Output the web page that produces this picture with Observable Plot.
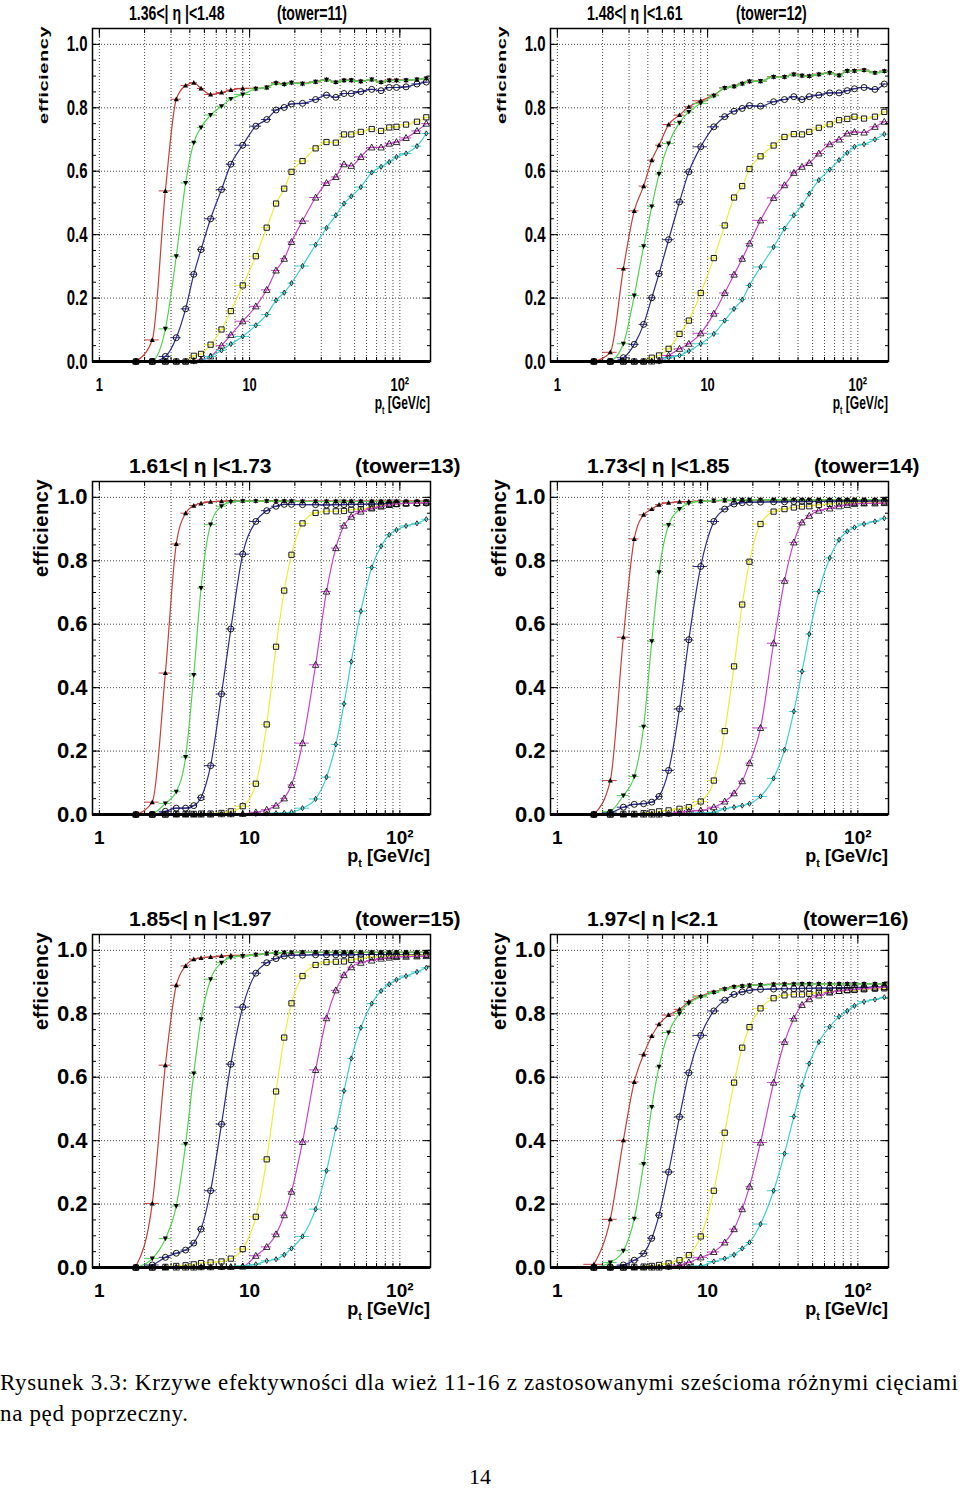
<!DOCTYPE html>
<html><head><meta charset="utf-8">
<script src="https://cdn.jsdelivr.net/npm/d3@7"></script>
<script src="https://cdn.jsdelivr.net/npm/@observablehq/plot@0.6"></script>
<style>
body{margin:0;background:#fff;}
#page{position:relative;width:960px;height:1488px;overflow:hidden;font-family:"Liberation Sans",Arial,sans-serif;background:#fff;}
.panel{position:absolute;width:470px;height:440px;}
.panel svg{position:absolute;left:0;top:0;overflow:visible;}
.lbl{position:absolute;white-space:nowrap;font-weight:bold;line-height:1;color:#000;}
.cap{position:absolute;left:0;white-space:nowrap;font-family:"Liberation Serif","DejaVu Serif",serif;font-size:23px;line-height:31px;color:#000;}
</style></head><body><div id="page"></div>
<script>
// ---------- data ----------
const ptBins = [1.75,2.25,2.75,3.25,3.75,4.25,4.75,5.5,6.5,7.5,9,11,13,15,17,19,22.5,27.5,32.5,37.5,42.5,47.5,55,65,75,85,95,110,130,150];
const ptLow  = [1.5,2,2.5,3,3.5,4,4.5,5,6,7,8,10,12,14,16,18,20,25,30,35,40,45,50,60,70,80,90,100,120,140];
const ptHigh = [2,2.5,3,3.5,4,4.5,5,6,7,8,10,12,14,16,18,20,25,30,35,40,45,50,60,70,80,90,100,120,140,160];

const towers = [11,12,13,14,15,16];
const etaLabels = ["1.36<| η |<1.48","1.48<| η |<1.61","1.61<| η |<1.73","1.73<| η |<1.85","1.85<| η |<1.97","1.97<| η |<2.1"];
const yTickLabels = [0,0.2,0.4,0.6,0.8,1.0];
const xTickLabels = [1,10,100];

const t11_red     = [0,0.068,0.538,0.827,0.870,0.879,0.861,0.842,0.848,0.856,0.861,0.861,0.864,0.879,0.875,0.880,0.877,0.882,0.889,0.881,0.887,0.887,0.884,0.889,0.881,0.887,0.887,0.887,0.889,0.893];
const t11_green   = [0,0.003,0.103,0.332,0.563,0.690,0.738,0.777,0.805,0.828,0.842,0.860,0.864,0.877,0.873,0.879,0.876,0.882,0.888,0.880,0.886,0.887,0.883,0.889,0.880,0.886,0.886,0.887,0.889,0.892];
const t11_blue    = [0,0,0.016,0.075,0.166,0.275,0.353,0.450,0.542,0.622,0.682,0.742,0.763,0.793,0.801,0.812,0.814,0.826,0.840,0.833,0.845,0.845,0.851,0.858,0.854,0.864,0.864,0.866,0.875,0.881];
const t11_yellow  = [0,0,0,0,0,0.018,0.024,0.053,0.101,0.159,0.240,0.332,0.422,0.498,0.545,0.598,0.632,0.672,0.692,0.690,0.716,0.716,0.724,0.733,0.727,0.738,0.740,0.747,0.756,0.770];
const t11_magenta = [0,0,0,0,0,0.002,0.005,0.016,0.050,0.084,0.127,0.174,0.226,0.287,0.324,0.377,0.443,0.517,0.563,0.582,0.622,0.617,0.645,0.675,0.675,0.687,0.692,0.705,0.727,0.750];
const t11_cyan    = [0,0,0,0,0,0,0.003,0.016,0.035,0.055,0.079,0.114,0.148,0.193,0.217,0.247,0.301,0.368,0.421,0.461,0.498,0.521,0.550,0.596,0.614,0.629,0.645,0.656,0.679,0.719];

const t12_red     = [0,0.029,0.293,0.475,0.553,0.635,0.682,0.747,0.777,0.803,0.822,0.840,0.863,0.868,0.877,0.884,0.884,0.898,0.898,0.906,0.902,0.900,0.906,0.911,0.903,0.917,0.917,0.919,0.911,0.916];
const t12_green   = [0,0.003,0.056,0.208,0.363,0.489,0.591,0.687,0.753,0.787,0.814,0.838,0.862,0.867,0.876,0.883,0.884,0.897,0.897,0.905,0.901,0.899,0.905,0.910,0.902,0.916,0.916,0.918,0.910,0.915];
const t12_blue    = [0,0,0.012,0.054,0.117,0.201,0.277,0.384,0.503,0.598,0.677,0.740,0.772,0.789,0.798,0.807,0.805,0.819,0.826,0.835,0.826,0.835,0.840,0.847,0.847,0.854,0.860,0.864,0.858,0.875];
const t12_yellow  = [0,0,0,0,0,0.012,0.019,0.040,0.087,0.129,0.216,0.326,0.429,0.517,0.553,0.607,0.647,0.681,0.708,0.717,0.716,0.724,0.737,0.748,0.761,0.765,0.772,0.766,0.772,0.787];
const t12_magenta = [0,0,0,0,0,0,0.003,0.019,0.040,0.056,0.089,0.151,0.216,0.274,0.324,0.372,0.445,0.516,0.556,0.595,0.614,0.626,0.656,0.685,0.700,0.719,0.724,0.722,0.740,0.756];
const t12_cyan    = [0,0,0,0,0,0,0,0.012,0.019,0.033,0.056,0.087,0.129,0.166,0.195,0.240,0.298,0.361,0.419,0.461,0.493,0.529,0.572,0.605,0.635,0.658,0.677,0.685,0.700,0.717];

const t13_red     = [0,0.039,0.446,0.853,0.950,0.974,0.981,0.986,0.988,0.989,0.989,0.989,0.989,0.989,0.989,0.989,0.988,0.988,0.988,0.988,0.988,0.988,0.988,0.988,0.988,0.988,0.988,0.988,0.988,0.988];
const t13_green   = [0,0.003,0.035,0.072,0.181,0.440,0.714,0.914,0.972,0.985,0.988,0.988,0.988,0.988,0.988,0.988,0.987,0.987,0.987,0.987,0.987,0.987,0.987,0.987,0.987,0.987,0.987,0.987,0.987,0.987];
const t13_blue    = [0,0,0.010,0.020,0.020,0.028,0.053,0.154,0.380,0.585,0.821,0.924,0.958,0.972,0.978,0.978,0.977,0.977,0.976,0.977,0.977,0.978,0.978,0.979,0.979,0.980,0.980,0.981,0.981,0.982];
const t13_yellow  = [0,0,0,0.002,0.002,0.002,0.003,0.003,0.005,0.010,0.026,0.097,0.284,0.529,0.706,0.819,0.918,0.951,0.956,0.956,0.957,0.961,0.963,0.968,0.974,0.977,0.979,0.981,0.982,0.984];
const t13_magenta = [0,0,0,0,0,0,0,0,0.001,0.001,0.002,0.007,0.015,0.028,0.051,0.093,0.225,0.472,0.703,0.840,0.911,0.939,0.955,0.965,0.971,0.976,0.979,0.981,0.982,0.983];
const t13_cyan    = [0,0,0,0,0,0,0,0,0,0,0.001,0.002,0.003,0.004,0.005,0.007,0.020,0.049,0.118,0.221,0.349,0.482,0.641,0.779,0.846,0.882,0.897,0.910,0.918,0.931];

const t14_red     = [0,0.107,0.559,0.869,0.945,0.963,0.977,0.983,0.986,0.987,0.988,0.989,0.990,0.990,0.991,0.991,0.991,0.991,0.991,0.991,0.991,0.991,0.991,0.991,0.991,0.991,0.991,0.991,0.991,0.991];
const t14_green   = [0,0.010,0.060,0.120,0.277,0.546,0.764,0.913,0.963,0.981,0.987,0.990,0.991,0.991,0.992,0.992,0.992,0.992,0.992,0.992,0.992,0.992,0.992,0.992,0.992,0.992,0.992,0.992,0.992,0.992];
const t14_blue    = [0,0.005,0.023,0.032,0.034,0.039,0.057,0.139,0.333,0.551,0.782,0.924,0.963,0.979,0.983,0.984,0.985,0.986,0.986,0.987,0.987,0.987,0.987,0.988,0.988,0.988,0.988,0.988,0.988,0.988];
const t14_yellow  = [0,0,0.002,0.002,0.004,0.007,0.010,0.013,0.018,0.023,0.041,0.107,0.263,0.467,0.662,0.797,0.916,0.955,0.963,0.968,0.971,0.972,0.976,0.979,0.981,0.982,0.983,0.983,0.984,0.984];
const t14_magenta = [0,0,0,0,0,0,0,0.003,0.007,0.010,0.013,0.023,0.041,0.067,0.105,0.162,0.273,0.540,0.737,0.858,0.921,0.942,0.958,0.965,0.972,0.976,0.979,0.981,0.981,0.982];
const t14_cyan    = [0,0,0,0,0,0,0,0,0.002,0.003,0.005,0.007,0.018,0.023,0.028,0.034,0.057,0.114,0.204,0.325,0.451,0.569,0.703,0.809,0.866,0.893,0.905,0.916,0.924,0.934];

const t15_red     = [0.003,0.202,0.638,0.890,0.951,0.972,0.976,0.979,0.982,0.984,0.984,0.987,0.990,0.992,0.993,0.993,0.994,0.994,0.994,0.994,0.994,0.994,0.994,0.994,0.994,0.994,0.994,0.994,0.994,0.994];
const t15_green   = [0,0.028,0.091,0.194,0.389,0.612,0.783,0.909,0.961,0.977,0.982,0.986,0.990,0.992,0.993,0.993,0.994,0.994,0.994,0.994,0.994,0.994,0.994,0.994,0.994,0.994,0.994,0.994,0.994,0.994];
const t15_blue    = [0,0.008,0.032,0.045,0.055,0.077,0.121,0.242,0.452,0.641,0.821,0.928,0.961,0.974,0.982,0.984,0.985,0.986,0.986,0.986,0.986,0.986,0.987,0.987,0.987,0.987,0.987,0.987,0.987,0.987];
const t15_yellow  = [0,0,0.002,0.005,0.007,0.010,0.014,0.016,0.019,0.028,0.058,0.160,0.341,0.555,0.725,0.833,0.919,0.954,0.963,0.964,0.965,0.970,0.974,0.979,0.980,0.982,0.982,0.984,0.984,0.985];
const t15_magenta = [0,0,0,0,0,0,0.001,0.001,0.002,0.002,0.003,0.037,0.065,0.105,0.165,0.239,0.396,0.623,0.786,0.874,0.922,0.947,0.961,0.968,0.974,0.977,0.979,0.980,0.981,0.982];
const t15_cyan    = [0,0,0,0,0,0,0,0,0,0.002,0.005,0.010,0.021,0.026,0.040,0.060,0.098,0.184,0.305,0.439,0.557,0.659,0.756,0.832,0.872,0.893,0.907,0.919,0.932,0.945];

const t16_red     = [0.010,0.152,0.401,0.585,0.672,0.730,0.767,0.796,0.814,0.838,0.856,0.869,0.879,0.886,0.888,0.890,0.892,0.893,0.894,0.894,0.895,0.895,0.895,0.895,0.895,0.895,0.895,0.895,0.895,0.895];
const t16_green   = [0,0.016,0.053,0.154,0.326,0.506,0.633,0.741,0.801,0.833,0.853,0.867,0.877,0.884,0.887,0.889,0.891,0.892,0.893,0.893,0.894,0.894,0.894,0.894,0.894,0.894,0.894,0.894,0.894,0.894];
const t16_blue    = [0,0.002,0.008,0.023,0.044,0.092,0.165,0.301,0.475,0.614,0.732,0.809,0.843,0.861,0.869,0.874,0.877,0.878,0.879,0.879,0.880,0.880,0.881,0.881,0.882,0.882,0.883,0.883,0.884,0.884];
const t16_yellow  = [0,0,0,0.002,0.003,0.005,0.008,0.013,0.023,0.039,0.098,0.242,0.425,0.583,0.693,0.758,0.817,0.849,0.858,0.861,0.861,0.863,0.867,0.870,0.872,0.874,0.875,0.877,0.879,0.880];
const t16_magenta = [0,0,0,0,0,0,0,0.003,0.007,0.016,0.032,0.049,0.079,0.121,0.184,0.255,0.394,0.583,0.711,0.785,0.828,0.846,0.858,0.867,0.872,0.875,0.877,0.879,0.882,0.884];
const t16_cyan    = [0,0,0,0,0,0,0,0,0.002,0.003,0.005,0.019,0.028,0.040,0.060,0.079,0.137,0.242,0.359,0.476,0.573,0.643,0.711,0.759,0.791,0.809,0.825,0.838,0.845,0.852];

const panelSeries = [
  [t11_red,t11_green,t11_blue,t11_yellow,t11_magenta,t11_cyan],
  [t12_red,t12_green,t12_blue,t12_yellow,t12_magenta,t12_cyan],
  [t13_red,t13_green,t13_blue,t13_yellow,t13_magenta,t13_cyan],
  [t14_red,t14_green,t14_blue,t14_yellow,t14_magenta,t14_cyan],
  [t15_red,t15_green,t15_blue,t15_yellow,t15_magenta,t15_cyan],
  [t16_red,t16_green,t16_blue,t16_yellow,t16_magenta,t16_cyan]
];

// ---------- styles ----------
const seriesColors = ["#c63f3a","#52d452","#2c2c8c","#eded3c","#c944c9","#3ed0d0"];
const rad = s => Math.sqrt(s / Math.PI);
const triUp = {draw(c, s){const r = rad(s); c.moveTo(0,-r); c.lineTo(r*0.95,r*0.75); c.lineTo(-r*0.95,r*0.75); c.closePath();}};
const triDown = {draw(c, s){const r = rad(s); c.moveTo(0,r); c.lineTo(r*0.95,-r*0.75); c.lineTo(-r*0.95,-r*0.75); c.closePath();}};
const square = {draw(c, s){const r = rad(s); c.rect(-r,-r,2*r,2*r);}};
const circle = {draw(c, s){const r = rad(s); c.moveTo(r,0); c.arc(0,0,r,0,2*Math.PI);}};
const diamond = {draw(c, s){const r = rad(s); c.moveTo(0,-r); c.lineTo(r*0.6,0); c.lineTo(0,r); c.lineTo(-r*0.6,0); c.closePath();}};
const markerStyles = [
  {symbol: triUp, r: 2.7, fill: "black", stroke: "none"},
  {symbol: triDown, r: 2.7, fill: "black", stroke: "none"},
  {symbol: circle, r: 3.0, fill: "none", stroke: "black", strokeWidth: 0.9},
  {symbol: square, r: 2.6, fill: "none", stroke: "black", strokeWidth: 0.9},
  {symbol: triUp, r: 3.4, fill: "none", stroke: "black", strokeWidth: 0.8},
  {symbol: diamond, r: 2.6, fill: "none", stroke: "black", strokeWidth: 0.8}
];
const towerLeft = [277, 278, 355, 356, 355, 345];
const rowTop = [0, 453, 906];
const colLeft = [0, 458];
const gridX = [1,2,3,4,5,6,7,8,9,10,20,30,40,50,60,70,80,90,100];
const gridY = [0.2,0.4,0.6,0.8,1.0];
const yMinor = d3.range(0, 1.051, 0.05);
const FONT = '"Liberation Sans", Arial, sans-serif';

function squeezeSvgText(svg, k) {
  svg.querySelectorAll("text").forEach(t => {
    const x = parseFloat(t.getAttribute("x")) || 0;
    const tr = t.getAttribute("transform") || "";
    t.removeAttribute("x");
    t.setAttribute("transform", `${tr} translate(${x},0) scale(${k},1)`);
  });
}

const page = document.getElementById("page");

panelSeries.forEach((series, idx) => {
  const row = Math.floor(idx / 2), col = idx % 2;
  const squeezed = row === 0;
  const marks = [
    Plot.ruleX(gridX, {stroke: "#333", strokeWidth: 0.9, strokeDasharray: "1,2"}),
    Plot.ruleY(gridY, {stroke: "#333", strokeWidth: 0.9, strokeDasharray: "1,2"}),
    Plot.axisY({anchor: "left", ticks: yMinor, tickSize: -4, tickFormat: () => "", label: null}),
    Plot.axisY({anchor: "right", ticks: yMinor, tickSize: -4, tickFormat: () => "", label: null}),
    Plot.axisY({anchor: "left", ticks: yTickLabels, tickSize: -8, tickFormat: () => "", label: null}),
    Plot.axisY({anchor: "right", ticks: yTickLabels, tickSize: -8, tickFormat: () => "", label: null}),
    Plot.axisX({anchor: "top", ticks: gridX, tickSize: -4, tickFormat: () => "", label: null}),
    Plot.axisX({anchor: "top", ticks: xTickLabels, tickSize: -8, tickFormat: () => "", label: null}),
    Plot.axisX({anchor: "bottom", ticks: gridX, tickSize: -4, tickFormat: () => "", label: null}),
    Plot.axisY({anchor: "left", ticks: yTickLabels, tickSize: 0, tickPadding: 5, tickFormat: d3.format(".1f"),
      label: null, fontSize: 22, fontWeight: "bold"}),
    Plot.axisX({anchor: "bottom", ticks: xTickLabels, tickSize: 0, tickPadding: 16,
      tickFormat: d => d === 100 ? "10²" : String(d), label: null, fontSize: 19, fontWeight: "bold"})
  ];
  series.forEach((vals, s) => {
    const data = vals.map((v, i) => ({x: ptBins[i], lo: ptLow[i], hi: ptHigh[i], y: v}));
    marks.push(Plot.line(data, {x: "x", y: "y", stroke: seriesColors[s], strokeWidth: 1.2, curve: "monotone-x"}));
    marks.push(Plot.ruleY(data, {y: "y", x1: "lo", x2: "hi", stroke: seriesColors[s], strokeWidth: 1}));
    marks.push(Plot.dot(data, {x: "x", y: "y", ...markerStyles[s]}));
  });
  marks.push(Plot.ruleY([0], {stroke: "black", strokeWidth: 3}));
  marks.push(Plot.frame({stroke: "black", strokeWidth: 1.5}));

  const svg = Plot.plot({
    width: 470, height: 440,
    marginLeft: 92, marginRight: 40, marginTop: 28, marginBottom: 79,
    x: {type: "log", domain: [0.9, 160]},
    y: {domain: [0, 1.05]},
    style: {fontFamily: FONT, background: "none", overflow: "visible", color: "black"},
    marks
  });
  if (squeezed) squeezeSvgText(svg, 0.68);

  const div = document.createElement("div");
  div.className = "panel";
  div.style.left = colLeft[col] + "px";
  div.style.top = rowTop[row] + "px";
  div.appendChild(svg);

  const sq = squeezed ? "scaleX(0.67)" : "none";
  const title = document.createElement("div");
  title.className = "lbl";
  title.style.cssText = `left:129px;top:2px;font-size:21px;transform-origin:0 0;transform:${sq}`;
  title.textContent = etaLabels[idx];
  div.appendChild(title);

  const tw = document.createElement("div");
  tw.className = "lbl";
  tw.style.cssText = `left:${towerLeft[idx]}px;top:2px;font-size:21px;transform-origin:0 0;transform:${sq}`;
  tw.textContent = `(tower=${towers[idx]})`;
  div.appendChild(tw);

  const eff = document.createElement("div");
  eff.className = "lbl";
  eff.style.cssText = squeezed
    ? "left:36px;top:124px;font-size:20px;line-height:20px;letter-spacing:0.6px;transform-origin:0 0;transform:rotate(-90deg) scale(1,0.68)"
    : "left:31px;top:124px;font-size:20px;line-height:20px;letter-spacing:0.6px;transform-origin:0 0;transform:rotate(-90deg)";
  eff.textContent = "efficiency";
  div.appendChild(eff);

  const pt = document.createElement("div");
  pt.className = "lbl";
  pt.style.cssText = `left:0;width:430px;text-align:right;top:394px;font-size:18px;transform-origin:100% 0;transform:${sq}`;
  pt.innerHTML = 'p<sub style="font-size:0.6em;vertical-align:-0.45em">t</sub> [GeV/c]';
  div.appendChild(pt);

  page.appendChild(div);
});

// caption
const cap1 = document.createElement("div");
cap1.className = "cap";
cap1.style.top = "1367px";
cap1.textContent = "Rysunek 3.3: Krzywe efektywności dla wież 11-16 z zastosowanymi sześcioma różnymi cięciami";
page.appendChild(cap1);
const cap2 = document.createElement("div");
cap2.className = "cap";
cap2.style.top = "1398px";
cap2.textContent = "na pęd poprzeczny.";
page.appendChild(cap2);
const w = cap1.getBoundingClientRect().width;
const n = cap1.textContent.length;
const ls = Math.max(0, (958 - w) / (n - 1));
cap1.style.letterSpacing = ls + "px";
cap2.style.letterSpacing = ls + "px";
const pg = document.createElement("div");
pg.className = "cap";
pg.style.cssText = "top:1467px;width:960px;text-align:center;line-height:20px;font-size:22px;";
pg.textContent = "14";
page.appendChild(pg);
</script></body></html>
